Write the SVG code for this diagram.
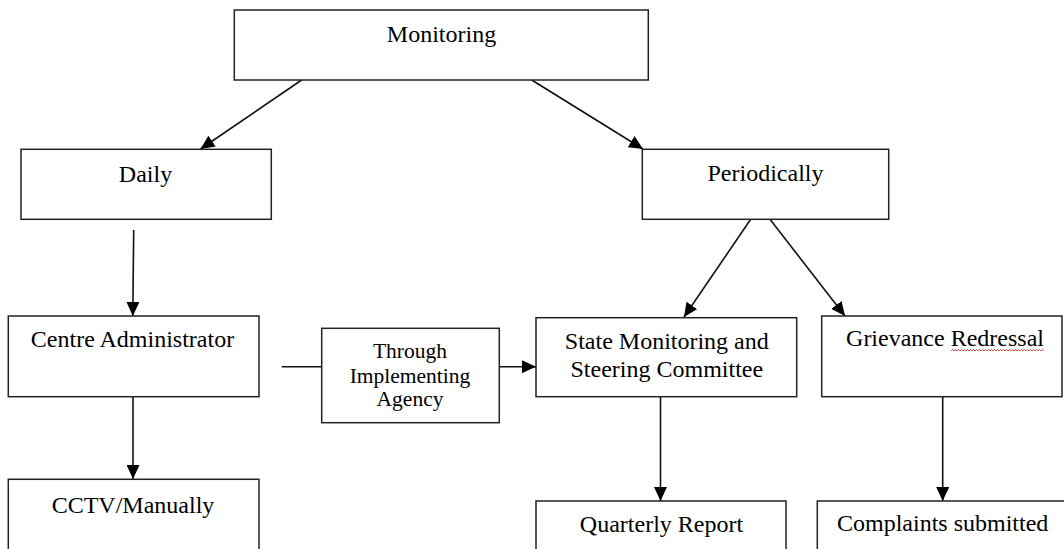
<svg xmlns="http://www.w3.org/2000/svg" width="1064" height="549" viewBox="0 0 1064 549">
<style>
.box{fill:#fff;stroke:#222;stroke-width:1.5}
.t{font-family:"Liberation Serif","Times New Roman",serif;font-size:24px;fill:#000;text-anchor:middle}
.ts{font-family:"Liberation Serif","Times New Roman",serif;font-size:21.5px;fill:#000;text-anchor:middle}
.c{stroke:#111;stroke-width:1.6;fill:none}
.arr{marker-end:url(#ah)}
</style>
<defs>
<marker id="ah" markerUnits="userSpaceOnUse" markerWidth="14" markerHeight="13" refX="14" refY="6.5" orient="auto">
<path d="M0,0 L14,6.5 L0,13 Z" fill="#000"/>
</marker>
</defs>
<rect width="1064" height="549" fill="#fff"/>
<g id="connectors">
<line class="c arr" x1="301.7" y1="80" x2="200.5" y2="149"/>
<line class="c arr" x1="531.7" y1="80" x2="643" y2="149"/>
<line class="c arr" x1="133.7" y1="230" x2="132.8" y2="316"/>
<line class="c arr" x1="133" y1="397" x2="133" y2="479"/>
<line class="c" x1="281.7" y1="366.7" x2="321.7" y2="366.7"/>
<line class="c arr" x1="499.3" y1="366.7" x2="536" y2="366.7"/>
<line class="c arr" x1="750.7" y1="219.3" x2="684" y2="317"/>
<line class="c arr" x1="770" y1="219.3" x2="845" y2="316"/>
<line class="c arr" x1="660.5" y1="397" x2="660.5" y2="501"/>
<line class="c arr" x1="942.7" y1="397" x2="942.7" y2="501"/>
</g>
<g id="monitoring">
<rect class="box" x="234.3" y="10" width="414" height="70"/>
<text class="t" x="441.5" y="41.7">Monitoring</text>
</g>
<g id="daily">
<rect class="box" x="21" y="149.3" width="250.3" height="70"/>
<text class="t" x="145.5" y="181.5">Daily</text>
</g>
<g id="periodically">
<rect class="box" x="642.3" y="149.3" width="246.4" height="70"/>
<text class="t" x="765.5" y="180.5">Periodically</text>
</g>
<g id="centre-administrator">
<rect class="box" x="8.3" y="316" width="250.7" height="80.7"/>
<text class="t" x="132.5" y="346.7">Centre Administrator</text>
</g>
<g id="through-implementing-agency">
<rect class="box" x="321.7" y="328.3" width="177.6" height="94.4"/>
<text class="ts" x="410" y="358.3">Through</text>
<text class="ts" x="410" y="382.7">Implementing</text>
<text class="ts" x="410" y="406">Agency</text>
</g>
<g id="state-monitoring">
<rect class="box" x="536" y="317.7" width="260.7" height="79"/>
<text class="t" x="666.8" y="349.3">State Monitoring and</text>
<text class="t" x="666.8" y="376.7">Steering Committee</text>
</g>
<g id="grievance-redressal">
<rect class="box" x="821.7" y="316" width="240.3" height="80.7"/>
<text class="t" x="945" y="345.7">Grievance Redressal</text>
<path d="M951,351 l1.5,-1.5 l1.5,1.5 l1.5,-1.5 l1.5,1.5 l1.5,-1.5 l1.5,1.5 l1.5,-1.5 l1.5,1.5 l1.5,-1.5 l1.5,1.5 l1.5,-1.5 l1.5,1.5 l1.5,-1.5 l1.5,1.5 l1.5,-1.5 l1.5,1.5 l1.5,-1.5 l1.5,1.5 l1.5,-1.5 l1.5,1.5 l1.5,-1.5 l1.5,1.5 l1.5,-1.5 l1.5,1.5 l1.5,-1.5 l1.5,1.5 l1.5,-1.5 l1.5,1.5 l1.5,-1.5 l1.5,1.5 l1.5,-1.5 l1.5,1.5 l1.5,-1.5 l1.5,1.5 l1.5,-1.5 l1.5,1.5 l1.5,-1.5 l1.5,1.5 l1.5,-1.5 l1.5,1.5 l1.5,-1.5 l1.5,1.5 l1.5,-1.5 l1.5,1.5 l1.5,-1.5 l1.5,1.5 l1.5,-1.5 l1.5,1.5 l1.5,-1.5 l1.5,1.5 l1.5,-1.5 l1.5,1.5 l1.5,-1.5 l1.5,1.5 l1.5,-1.5 l1.5,1.5 l1.5,-1.5 l1.5,1.5 l1.5,-1.5 l1.5,1.5 l1.5,-1.5 l1.5,1.5" fill="none" stroke="#e02020" stroke-width="0.8"/>
</g>
<g id="cctv-manually">
<rect class="box" x="8.3" y="479.3" width="250.7" height="90"/>
<text class="t" x="133" y="512.7">CCTV/Manually</text>
</g>
<g id="quarterly-report">
<rect class="box" x="536" y="501" width="250" height="70"/>
<text class="t" x="661.5" y="531.7">Quarterly Report</text>
</g>
<g id="complaints-submitted">
<rect class="box" x="817.3" y="501" width="260" height="70"/>
<text class="t" x="942.7" y="531">Complaints submitted</text>
</g>
</svg>
